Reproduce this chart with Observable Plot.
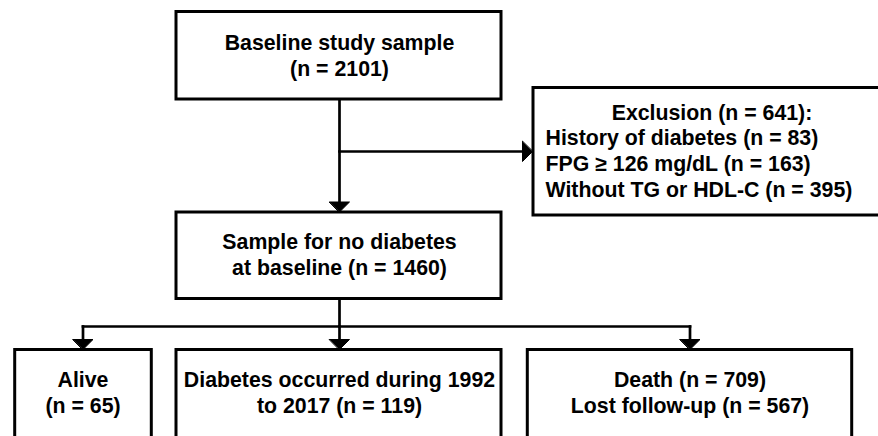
<!DOCTYPE html>
<html>
<head>
<meta charset="utf-8">
<script src="https://cdn.jsdelivr.net/npm/d3@7"></script>
<script src="https://cdn.jsdelivr.net/npm/@observablehq/plot@0.6"></script>
<style>
  html, body { margin: 0; padding: 0; background: #fff; overflow: hidden; }
</style>
</head>
<body>
<div id="chart"></div>
<script>
// ---- Content (text and counts) ----
const boxIds = ["baseline", "sample", "alive", "diabetes", "death"];
const boxLabels = [
  "Baseline study sample\n(n = 2101)",
  "Sample for no diabetes\nat baseline (n = 1460)",
  "Alive\n(n = 65)",
  "Diabetes occurred during 1992\nto 2017 (n = 119)",
  "Death (n = 709)\nLost follow-up (n = 567)"
];
const exclusionTitle = "Exclusion (n = 641):";
const exclusionItems = [
  "History of diabetes (n = 83)",
  "FPG ≥ 126 mg/dL (n = 163)",
  "Without TG or HDL-C (n = 395)"
];

// ---- Layout (diagram geometry, pixel space) ----
const layout = {
  baseline:  {x1: 176,   x2: 501,   y1: 11.5,  y2: 99,    tx: 339,   ty: 75.5},
  exclusion: {x1: 533,   x2: 895,   y1: 87.5,  y2: 215},
  sample:    {x1: 176,   x2: 501,   y1: 212,   y2: 298.5, tx: 339,   ty: 274},
  alive:     {x1: 14.7,  x2: 151.3, y1: 349.5, y2: 470,   tx: 82.5,  ty: 412},
  diabetes:  {x1: 176,   x2: 501,   y1: 349.5, y2: 470,   tx: 339,   ty: 412},
  death:     {x1: 527.3, x2: 851.7, y1: 349.5, y2: 470,   tx: 689.5, ty: 412}
};
const exclusionTitlePos = {x: 711.5, y: 119};
const exclusionItemsPos = {x: 545, y: 196.5};
const splitY1 = 151;   // branch to exclusion
const splitY2 = 326;   // branch to outcomes
const head = 10;       // arrowhead length
const fs = 21.3;

const rects = Object.entries(layout).map(([id, b]) => ({id, ...b}));
const labels = boxIds.map((id, i) => ({label: boxLabels[i], x: layout[id].tx, y: layout[id].ty}));

const cx = layout.baseline.tx;
const ex = layout.exclusion.x1 - 1;
const tops = ["alive", "diabetes", "death"].map(id => ({x: layout[id].tx, y: layout[id].y1 - 0.5}));

const links = [
  {x1: cx, y1: layout.baseline.y2, x2: cx, y2: layout.sample.y1 - head},
  {x1: cx, y1: splitY1, x2: ex - head, y2: splitY1},
  {x1: cx, y1: layout.sample.y2, x2: cx, y2: splitY2},
  {x1: tops[0].x, y1: splitY2, x2: tops[2].x, y2: splitY2},
  ...tops.map(t => ({x1: t.x, y1: splitY2, x2: t.x, y2: t.y - head}))
];

// arrowheads: tip + direction
const tips = [
  {x: cx, y: layout.sample.y1 - 0.5, dir: "down"},
  {x: ex, y: splitY1, dir: "right"},
  ...tops.map(t => ({...t, dir: "down"}))
];
const tri = [];
tips.forEach((t, i) => {
  const pts = t.dir === "down"
    ? [[t.x - 10, t.y - head], [t.x + 10, t.y - head], [t.x, t.y]]
    : [[t.x - head, t.y - 10], [t.x - head, t.y + 10], [t.x, t.y]];
  pts.forEach(([x, y]) => tri.push({i, x, y}));
});

const font = "'Liberation Sans', Arial, Helvetica, sans-serif";

const chart = Plot.plot({
  width: 878,
  height: 436,
  margin: 0,
  style: {background: "#fff", fontFamily: font},
  x: {domain: [0, 878], range: [0, 878], axis: null},
  y: {domain: [0, 436], range: [0, 436], axis: null},
  marks: [
    Plot.link(links, {x1: "x1", y1: "y1", x2: "x2", y2: "y2", stroke: "#000", strokeWidth: 2.7, strokeLinecap: "square"}),
    Plot.line(tri, {x: "x", y: "y", z: "i", curve: "linear-closed", fill: "#000", stroke: "#000", strokeWidth: 1}),
    Plot.rect(rects, {x1: "x1", x2: "x2", y1: "y1", y2: "y2", fill: "#fff", stroke: "#000", strokeWidth: 3}),
    Plot.text(labels, {x: "x", y: "y", text: "label", textAnchor: "middle", lineAnchor: "bottom",
      lineHeight: 26 / fs, fontSize: fs, fontWeight: "bold", fill: "#000"}),
    Plot.text([exclusionTitle], {x: exclusionTitlePos.x, y: exclusionTitlePos.y, text: d => d,
      textAnchor: "middle", lineAnchor: "bottom", fontSize: fs, fontWeight: "bold", fill: "#000"}),
    Plot.text([exclusionItems.join("\n")], {x: exclusionItemsPos.x, y: exclusionItemsPos.y, text: d => d,
      textAnchor: "start", lineAnchor: "bottom", lineHeight: 25.8 / fs, fontSize: fs, fontWeight: "bold", fill: "#000"})
  ]
});
document.getElementById("chart").appendChild(chart);
</script>
</body>
</html>
